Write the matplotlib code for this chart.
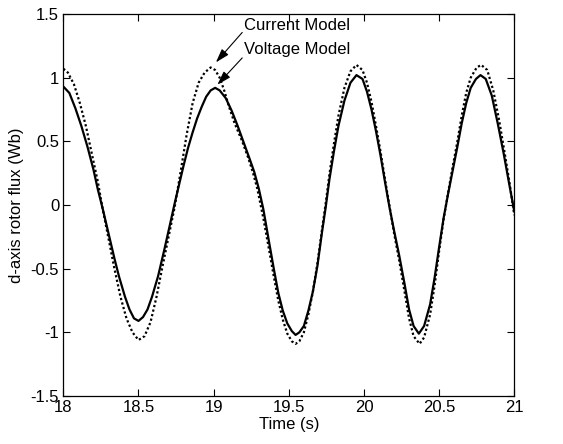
import matplotlib
matplotlib.use("Agg")
import matplotlib.pyplot as plt

plt.rcParams['font.family'] = ['Liberation Sans', 'DejaVu Sans']

# values
t_voltage = [18.00, 18.04, 18.08, 18.12, 18.16, 18.20, 18.23, 18.26, 18.30, 18.34,
             18.37, 18.41, 18.44, 18.47, 18.50, 18.53, 18.56, 18.59, 18.63, 18.67,
             18.71, 18.74, 18.77, 18.80, 18.83, 18.86, 18.89, 18.92, 18.95, 18.98,
             19.01, 19.04, 19.08, 19.12, 19.16, 19.20, 19.24, 19.27, 19.30, 19.33,
             19.37, 19.40, 19.43, 19.46, 19.49, 19.52, 19.545, 19.57, 19.60, 19.63,
             19.66, 19.69, 19.72, 19.745, 19.77, 19.80, 19.83, 19.87, 19.91, 19.95,
             19.99, 20.02, 20.05, 20.08, 20.11, 20.14, 20.17, 20.20, 20.235, 20.27,
             20.30, 20.33, 20.365, 20.40, 20.44, 20.47, 20.50, 20.53, 20.56, 20.59,
             20.62, 20.65, 20.68, 20.71, 20.745, 20.775, 20.81, 20.85, 20.89, 20.93,
             20.97, 21.00]
flux_voltage = [0.93, 0.88, 0.76, 0.62, 0.46, 0.28, 0.12, -0.02, -0.22, -0.42,
                -0.56, -0.72, -0.82, -0.89, -0.91, -0.88, -0.82, -0.72, -0.56, -0.36,
                -0.15, 0.01, 0.16, 0.31, 0.45, 0.57, 0.68, 0.77, 0.85, 0.90,
                0.92, 0.90, 0.84, 0.74, 0.62, 0.49, 0.36, 0.26, 0.13, -0.03,
                -0.30, -0.50, -0.69, -0.83, -0.93, -0.99, -1.02, -1.00, -0.95, -0.83,
                -0.68, -0.48, -0.22, -0.02, 0.20, 0.42, 0.62, 0.82, 0.96, 1.02,
                0.99, 0.89, 0.75, 0.58, 0.39, 0.18, -0.02, -0.20, -0.40, -0.62,
                -0.82, -0.95, -1.01, -0.95, -0.78, -0.57, -0.33, -0.10, 0.09, 0.27,
                0.45, 0.64, 0.80, 0.92, 0.99, 1.02, 0.99, 0.86, 0.64, 0.40,
                0.14, -0.05]

t_current = [18.00, 18.03, 18.07, 18.11, 18.15, 18.19, 18.23, 18.26, 18.30, 18.34,
             18.38, 18.42, 18.46, 18.50, 18.54, 18.58, 18.62, 18.66, 18.70, 18.74,
             18.78, 18.82, 18.86, 18.90, 18.94, 18.98, 19.01, 19.04, 19.07, 19.10,
             19.14, 19.19, 19.23, 19.26, 19.29, 19.33, 19.37, 19.40, 19.43, 19.46,
             19.49, 19.52, 19.545, 19.57, 19.60, 19.63, 19.66, 19.69, 19.72, 19.745,
             19.77, 19.80, 19.83, 19.87, 19.91, 19.95, 19.99, 20.02, 20.05, 20.08,
             20.11, 20.14, 20.17, 20.20, 20.235, 20.27, 20.30, 20.33, 20.37, 20.40,
             20.44, 20.47, 20.50, 20.53, 20.56, 20.59, 20.62, 20.65, 20.68, 20.71,
             20.75, 20.78, 20.82, 20.86, 20.90, 20.94, 20.97, 21.00]
flux_current = [1.07, 1.04, 0.95, 0.80, 0.62, 0.40, 0.18, -0.02, -0.26, -0.50,
                -0.72, -0.89, -1.00, -1.06, -1.03, -0.92, -0.72, -0.48, -0.25, -0.02,
                0.26, 0.55, 0.80, 0.96, 1.04, 1.08, 1.06, 1.00, 0.90, 0.78,
                0.64, 0.50, 0.37, 0.26, 0.13, -0.10, -0.36, -0.56, -0.75, -0.90,
                -1.01, -1.07, -1.09, -1.07, -1.00, -0.86, -0.68, -0.46, -0.20, 0.01,
                0.24, 0.48, 0.70, 0.92, 1.05, 1.10, 1.06, 0.96, 0.81, 0.62,
                0.42, 0.20, -0.01, -0.22, -0.44, -0.68, -0.89, -1.03, -1.09, -1.04,
                -0.86, -0.63, -0.36, -0.11, 0.10, 0.30, 0.49, 0.70, 0.88, 1.00,
                1.08, 1.10, 1.06, 0.90, 0.66, 0.38, 0.16, -0.08]

x_ticks = [18, 18.5, 19, 19.5, 20, 20.5, 21]
x_tick_labels = ['18', '18.5', '19', '19.5', '20', '20.5', '21']
y_ticks = [-1.5, -1, -0.5, 0, 0.5, 1, 1.5]
y_tick_labels = ['-1.5', '-1', '-0.5', '0', '0.5', '1', '1.5']

fig = plt.figure(figsize=(5.63, 4.44), dpi=100)
ax = fig.add_axes([0.1125, 0.108, 0.801, 0.8605])

ax.plot(t_current, flux_current, color='black', linestyle=(0, (1, 1.1)), linewidth=1.6)
ax.plot(t_voltage, flux_voltage, color='black', linestyle='-', linewidth=1.6)

ax.set_xlim(18, 21)
ax.set_ylim(-1.5, 1.5)
ax.set_xticks(x_ticks)
ax.set_xticklabels(x_tick_labels)
ax.set_yticks(y_ticks)
ax.set_yticklabels(y_tick_labels)
ax.tick_params(direction='in', top=True, right=True, labelsize=12, length=5, width=0.8, pad=3)
for s in ax.spines.values():
    s.set_linewidth(0.9)

ax.set_xlabel('Time (s)', fontsize=12, labelpad=1)
ax.set_ylabel('d-axis rotor flux (Wb)', fontsize=12, labelpad=5)

# labels and their arrows
ax.text(19.2, 1.41, 'Current Model', fontsize=12, va='center', ha='left')
ax.text(19.2, 1.222, 'Voltage Model', fontsize=12, va='center', ha='left')
arrow = dict(arrowstyle='-|>,head_length=0.7,head_width=0.22', color='black', lw=0.8,
             mutation_scale=12, shrinkA=0, shrinkB=0)
ax.annotate('', xy=(19.015, 1.12), xytext=(19.19, 1.355), arrowprops=arrow)
ax.annotate('', xy=(19.025, 0.945), xytext=(19.19, 1.155), arrowprops=arrow)

fig.savefig('out.png', dpi=100)
